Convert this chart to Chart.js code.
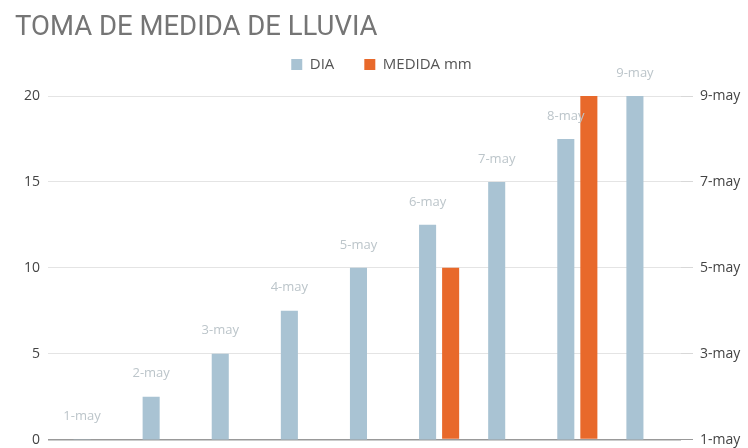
<!DOCTYPE html>
<html>
<head>
<meta charset="utf-8">
<script src="https://cdn.jsdelivr.net/npm/chart.js@4/dist/chart.umd.min.js"></script>
<style>
  html, body { margin: 0; padding: 0; background: #fff; overflow: hidden; }
  #wrap { width: 748px; height: 456px; }
</style>
</head>
<body>
<div id="wrap"><canvas id="bars"></canvas></div>
<script>
const dias = ['1-may', '2-may', '3-may', '4-may', '5-may', '6-may', '7-may', '8-may', '9-may']
const diaValues = [1, 2, 3, 4, 5, 6, 7, 8, 9]
const medidaValues = [null, null, null, null, null, 10, null, 20, null]
const leftTicks = [0, 5, 10, 15, 20]
const rightTicks = ['1-may', '3-may', '5-may', '7-may', '9-may']

// labels over the DIA bars
const barLabels = {
  id: 'barLabels',
  afterDatasetsDraw(chart) {
    const ctx = chart.ctx
    const meta = chart.getDatasetMeta(0)
    ctx.save()
    ctx.font = '13px "Open Sans"'
    ctx.fillStyle = '#bcc5ca'
    ctx.textAlign = 'center'
    ctx.textBaseline = 'middle'
    meta.data.forEach((bar, i) => {
      ctx.fillText(dias[i], bar.x, bar.y - 23)
    })
    ctx.restore()
  }
}

// extra room under the legend
const legendMargin = {
  id: 'legendMargin',
  beforeInit(chart) {
    const fit = chart.legend.fit
    chart.legend.fit = function () {
      fit.bind(chart.legend)()
      this.height += 14
    }
  }
}

const barConfig = {
  type: 'bar',
  data: {
    labels: dias,
    datasets: [
      {
        label: 'DIA',
        backgroundColor: '#a9c3d3',
        borderWidth: 0,
        data: diaValues,
        yAxisID: 'y1',
      },
      {
        label: 'MEDIDA mm',
        backgroundColor: '#e8692b',
        borderWidth: 0,
        data: medidaValues,
        yAxisID: 'y',
      },
    ],
  },
  options: {
    responsive: true,
    maintainAspectRatio: false,
    animation: false,
    categoryPercentage: 0.667,
    barPercentage: 0.74,
    layout: { padding: { left: 15, right: 0, top: 0, bottom: 0 } },
    plugins: {
      title: {
        display: true,
        text: 'TOMA DE MEDIDA DE LLUVIA',
        align: 'start',
        color: '#757575',
        font: { family: 'Roboto', size: 27.5, weight: 'normal' },
        padding: { top: 12, bottom: -18 },
      },
      legend: {
        display: true,
        labels: {
          boxWidth: 11,
          boxHeight: 11,
          padding: 30,
          color: '#555',
          font: { family: 'Open Sans', size: 15 },
        },
      },
      tooltip: { enabled: false },
    },
    scales: {
      x: {
        ticks: { display: false },
        grid: { display: false },
        border: { display: false },
      },
      y: {
        position: 'left',
        min: 0,
        max: 20,
        afterFit: s => { s.width = 44 },
        afterBuildTicks: s => { s.ticks = leftTicks.map(v => ({ value: v })) },
        ticks: {
          padding: 8,
          color: '#444',
          font: { family: 'Open Sans', size: 14 },
        },
        grid: {
          color: c => c.tick.value === 0 ? '#999' : '#e4e4e4',
          lineWidth: c => c.tick.value === 0 ? 1.5 : 1,
          tickLength: 11,
        },
        border: { display: false },
      },
      y1: {
        position: 'right',
        min: 1,
        max: 9,
        afterFit: s => { s.width = 67 },
        afterBuildTicks: s => { s.ticks = rightTicks.map((t, i) => ({ value: 1 + i * 2 })) },
        ticks: {
          padding: 7,
          color: '#444',
          font: { family: 'Open Sans', size: 14 },
          callback: (v, i) => rightTicks[i],
        },
        grid: {
          drawOnChartArea: false,
          color: c => c.tick.value === 1 ? '#999' : '#d8d8d8',
          tickLength: 12,
        },
        border: { display: false },
      },
    },
  },
  plugins: [barLabels, legendMargin],
}

const barsCtx = document.getElementById('bars')
window.myBar = new Chart(barsCtx, barConfig)
</script>
</body>
</html>
